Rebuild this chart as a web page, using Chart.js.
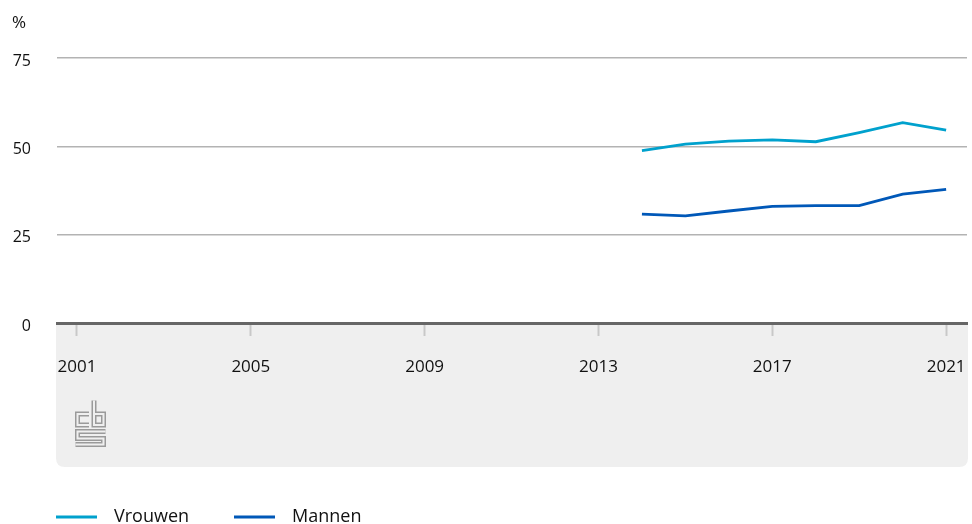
<!DOCTYPE html>
<html>
<head>
<meta charset="utf-8">
<script src="https://cdn.jsdelivr.net/npm/chart.js@4/dist/chart.umd.min.js"></script>
<style>
html,body{margin:0;padding:0;background:#fff;}
#wrap{position:relative;width:972px;height:524px;}
</style>
</head>
<body>
<div id="wrap"><canvas id="c" width="972" height="524"></canvas></div>
<script>
const years = [2014, 2015, 2016, 2017, 2018, 2019, 2020, 2021];
const vrouwen = [48.8, 50.6, 51.5, 51.8, 51.3, 53.9, 56.7, 54.6];
const mannen = [30.8, 30.3, 31.7, 33.0, 33.2, 33.2, 36.5, 37.8];
const xTicks = [2001, 2005, 2009, 2013, 2017, 2021];
const yTicks = [0, 25, 50, 75];
const seriesNames = ['Vrouwen', 'Mannen'];
const colors = ['#00a1cd', '#0058b8'];
const FONT = '"Open Sans", "Noto Sans", sans-serif';

const toPts = arr => years.map((y, i) => ({x: y, y: arr[i]}));

const decor = {
  id: 'decor',
  beforeDraw(chart) {
    const ctx = chart.ctx;
    const a = chart.chartArea;
    ctx.save();
    const x0 = 56, x1 = 968, y0 = a.bottom, y1 = 467, r = 9;
    ctx.fillStyle = '#efefef';
    ctx.beginPath();
    ctx.moveTo(x0, y0);
    ctx.lineTo(x1, y0);
    ctx.lineTo(x1, y1 - r);
    ctx.quadraticCurveTo(x1, y1, x1 - r, y1);
    ctx.lineTo(x0 + r, y1);
    ctx.quadraticCurveTo(x0, y1, x0, y1 - r);
    ctx.closePath();
    ctx.fill();
    ctx.lineJoin = 'miter';
    ctx.lineCap = 'butt';
    const drawLogo = (w, col) => {
      ctx.strokeStyle = col;
      ctx.lineWidth = w;
      ctx.beginPath();
      ctx.moveTo(89, 414); ctx.lineTo(77.5, 414); ctx.lineTo(77.5, 425); ctx.lineTo(89, 425);
      ctx.moveTo(94, 400.5); ctx.lineTo(94, 425); ctx.lineTo(103.5, 425); ctx.lineTo(103.5, 414); ctx.lineTo(94, 414);
      ctx.moveTo(105.5, 431.5); ctx.lineTo(77.5, 431.5); ctx.lineTo(77.5, 438.5); ctx.lineTo(103.5, 438.5); ctx.lineTo(103.5, 444.5); ctx.lineTo(75.5, 444.5);
      ctx.stroke();
    };
    drawLogo(5, '#9a9a9a');
    drawLogo(2, '#efefef');
    ctx.restore();
  },
  afterDraw(chart) {
    const ctx = chart.ctx;
    ctx.save();
    ctx.fillStyle = '#111';
    ctx.font = '17px ' + FONT;
    ctx.textAlign = 'left';
    ctx.textBaseline = 'middle';
    ctx.fillText('%', 12, 23);
    const items = [{x: 56, tx: 114}, {x: 234, tx: 292}];
    ctx.font = '18px ' + FONT;
    items.forEach((it, i) => {
      ctx.strokeStyle = colors[i];
      ctx.lineWidth = 3;
      ctx.beginPath();
      ctx.moveTo(it.x, 517);
      ctx.lineTo(it.x + 41, 517);
      ctx.stroke();
      ctx.fillStyle = '#111';
      ctx.fillText(seriesNames[i], it.tx, 517);
    });
    ctx.restore();
  }
};

new Chart(document.getElementById('c'), {
  type: 'line',
  data: {
    datasets: [
      {label: seriesNames[0], data: toPts(vrouwen), borderColor: colors[0], borderWidth: 2.8, pointRadius: 0, tension: 0, fill: false},
      {label: seriesNames[1], data: toPts(mannen), borderColor: colors[1], borderWidth: 2.8, pointRadius: 0, tension: 0, fill: false}
    ]
  },
  options: {
    responsive: false,
    animation: false,
    events: [],
    layout: {padding: {top: 58, right: 5, left: 0, bottom: 0}},
    plugins: {legend: {display: false}, tooltip: {enabled: false}},
    scales: {
      x: {
        type: 'linear',
        min: 2000.54,
        max: 2021.48,
        afterBuildTicks: s => { s.ticks = xTicks.map(v => ({value: v})); },
        afterFit: s => { s.height = 201; s.paddingLeft = 0; s.paddingRight = 0; },
        ticks: {
          autoSkip: false,
          maxRotation: 0,
          padding: 21,
          color: '#111',
          font: {family: FONT, size: 17},
          callback: v => String(v)
        },
        grid: {display: true, drawOnChartArea: false, drawTicks: true, tickLength: 13, tickColor: '#c8c8c8', tickWidth: 2},
        border: {display: true, color: '#666666', width: 3}
      },
      y: {
        min: 0,
        max: 75,
        afterBuildTicks: s => { s.ticks = yTicks.map(v => ({value: v})); },
        afterFit: s => { s.width = 57; s.paddingTop = 0; s.paddingBottom = 0; },
        ticks: {
          padding: 26,
          labelOffset: 3,
          color: '#111',
          font: {family: FONT, size: 16},
          callback: v => String(v)
        },
        grid: {color: '#b3b3b3', lineWidth: 1.5, drawTicks: false},
        border: {display: false}
      }
    }
  },
  plugins: [decor]
});
</script>
</body>
</html>
